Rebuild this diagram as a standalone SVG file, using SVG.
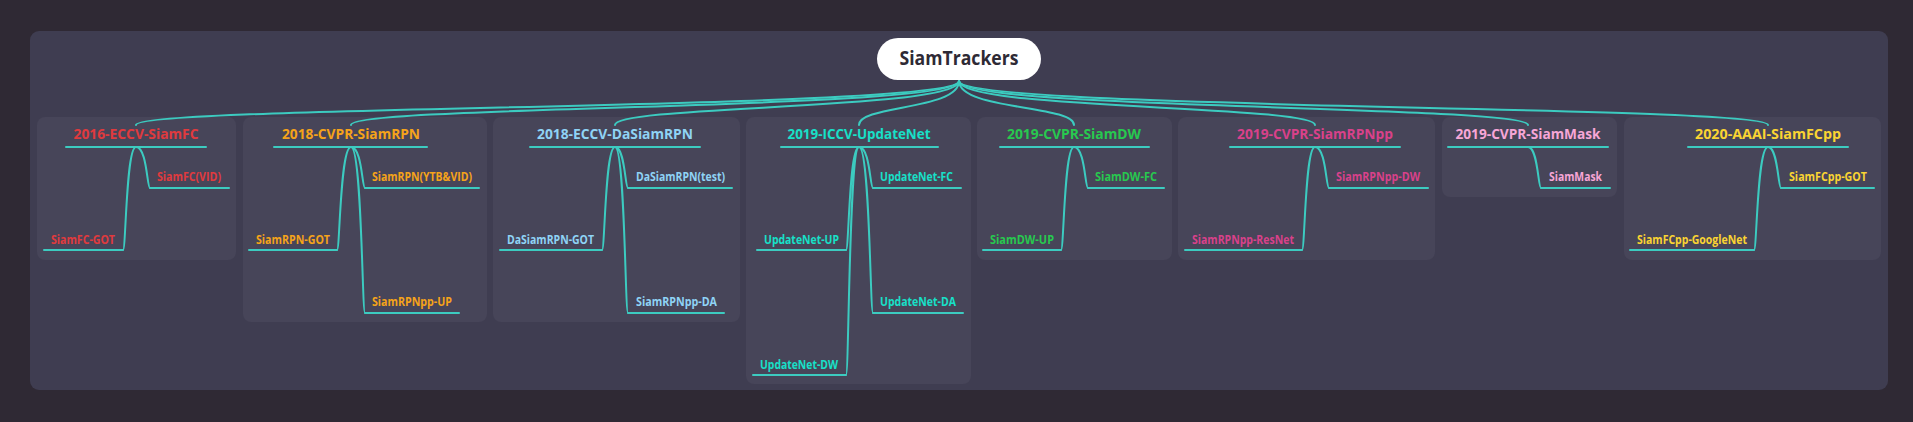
<svg xmlns="http://www.w3.org/2000/svg" width="1913" height="422" viewBox="0 0 1913 422">
<style>
.card{fill:#474559}
.ln{fill:none;stroke:#3ccbc0;stroke-width:2;stroke-linecap:round}
.t{font-family:"Open Sans","Liberation Sans",sans-serif;font-weight:700;font-size:14px;text-anchor:middle}
.c{font-family:"Open Sans","Liberation Sans",sans-serif;font-weight:700;font-size:11.5px}
.r{font-family:"Open Sans","Liberation Sans",sans-serif;font-weight:700;font-size:19px;text-anchor:middle;fill:#2e2a35}
.red{fill:#e03a3e}.org{fill:#f5a31a}.blu{fill:#8fd3f5}.tea{fill:#17e0c8}.grn{fill:#27c94f}.mag{fill:#d9418a}.pnk{fill:#f7a6d6}.yel{fill:#fad432}
</style>
<rect width="1913" height="422" fill="#2f2934"/>
<rect x="30" y="31" width="1858" height="359" rx="9" fill="#3f3d51"/>
<g id="cards">
<rect class="card" x="37" y="117" width="199" height="143" rx="8"/>
<rect class="card" x="243" y="117" width="244" height="205" rx="8"/>
<rect class="card" x="493" y="117" width="247" height="205" rx="8"/>
<rect class="card" x="746" y="117" width="225" height="267" rx="8"/>
<rect class="card" x="977" y="117" width="195" height="143" rx="8"/>
<rect class="card" x="1178" y="117" width="257" height="143" rx="8"/>
<rect class="card" x="1442" y="117" width="175" height="80" rx="8"/>
<rect class="card" x="1624" y="117" width="257" height="143" rx="8"/>
</g>
<g id="connectors">
<path class="ln" d="M959 81C959 110 136 105 136 125"/>
<path class="ln" d="M959 81C959 110 351 105 351 125"/>
<path class="ln" d="M959 81C959 110 615 105 615 125"/>
<path class="ln" d="M959 81C959 110 859 105 859 125"/>
<path class="ln" d="M959 81C959 110 1074 105 1074 125"/>
<path class="ln" d="M959 81C959 110 1315 105 1315 125"/>
<path class="ln" d="M959 81C959 110 1528 105 1528 125"/>
<path class="ln" d="M959 81C959 110 1768 105 1768 125"/>
<path class="ln" d="M136 147C147 147 147 188 150 188M136 147C126 147 126 250 123 250"/>
<path class="ln" d="M351 147C362 147 362 188 365 188M351 147C340 147 340 250 337 250M351 147C362 147 362 313 365 313"/>
<path class="ln" d="M615 147C625 147 625 188 628 188M615 147C605 147 605 250 602 250M615 147C625 147 625 313 628 313"/>
<path class="ln" d="M859 147C870 147 870 188 873 188M859 147C849 147 849 250 846 250M859 147C870 147 870 313 873 313M859 147C849 147 849 375 846 375"/>
<path class="ln" d="M1074 147C1085 147 1085 188 1088 188M1074 147C1064 147 1064 250 1061 250"/>
<path class="ln" d="M1315 147C1326 147 1326 188 1329 188M1315 147C1305 147 1305 250 1302 250"/>
<path class="ln" d="M1528 147C1538 147 1538 188 1541 188"/>
<path class="ln" d="M1768 147C1778 147 1778 188 1781 188M1768 147C1757 147 1757 250 1754 250"/>
</g>
<g id="root">
<rect x="877" y="38" width="164" height="42" rx="21" fill="#ffffff"/>
<text class="r" x="959" y="65" textLength="119" lengthAdjust="spacingAndGlyphs">SiamTrackers</text>
</g>
<g id="n-siamfc">
<text class="t red" x="136" y="139" textLength="125" lengthAdjust="spacingAndGlyphs">2016-ECCV-SiamFC</text>
<path class="ln" d="M66 147H206"/>
<text class="c red" x="157" y="181" textLength="64" lengthAdjust="spacingAndGlyphs">SiamFC(VID)</text>
<path class="ln" d="M150 188H229"/>
<text class="c red" x="51" y="244" textLength="64" lengthAdjust="spacingAndGlyphs">SiamFC-GOT</text>
<path class="ln" d="M44 250H123"/>
</g>
<g id="n-siamrpn">
<text class="t org" x="351" y="139" textLength="138" lengthAdjust="spacingAndGlyphs">2018-CVPR-SiamRPN</text>
<path class="ln" d="M274 147H427"/>
<text class="c org" x="372" y="181" textLength="100" lengthAdjust="spacingAndGlyphs">SiamRPN(YTB&amp;VID)</text>
<path class="ln" d="M365 188H479"/>
<text class="c org" x="256" y="244" textLength="74" lengthAdjust="spacingAndGlyphs">SiamRPN-GOT</text>
<path class="ln" d="M249 250H337"/>
<text class="c org" x="372" y="306" textLength="80" lengthAdjust="spacingAndGlyphs">SiamRPNpp-UP</text>
<path class="ln" d="M365 313H459"/>
</g>
<g id="n-dasiamrpn">
<text class="t blu" x="615" y="139" textLength="156" lengthAdjust="spacingAndGlyphs">2018-ECCV-DaSiamRPN</text>
<path class="ln" d="M530 147H700"/>
<text class="c blu" x="636" y="181" textLength="89" lengthAdjust="spacingAndGlyphs">DaSiamRPN(test)</text>
<path class="ln" d="M628 188H732"/>
<text class="c blu" x="507" y="244" textLength="87" lengthAdjust="spacingAndGlyphs">DaSiamRPN-GOT</text>
<path class="ln" d="M500 250H602"/>
<text class="c blu" x="636" y="306" textLength="81" lengthAdjust="spacingAndGlyphs">SiamRPNpp-DA</text>
<path class="ln" d="M628 313H724"/>
</g>
<g id="n-updatenet">
<text class="t tea" x="859" y="139" textLength="143" lengthAdjust="spacingAndGlyphs">2019-ICCV-UpdateNet</text>
<path class="ln" d="M781 147H938"/>
<text class="c tea" x="880" y="181" textLength="73" lengthAdjust="spacingAndGlyphs">UpdateNet-FC</text>
<path class="ln" d="M873 188H961"/>
<text class="c tea" x="764" y="244" textLength="75" lengthAdjust="spacingAndGlyphs">UpdateNet-UP</text>
<path class="ln" d="M757 250H846"/>
<text class="c tea" x="880" y="306" textLength="76" lengthAdjust="spacingAndGlyphs">UpdateNet-DA</text>
<path class="ln" d="M873 313H963"/>
<text class="c tea" x="760" y="369" textLength="78" lengthAdjust="spacingAndGlyphs">UpdateNet-DW</text>
<path class="ln" d="M753 375H846"/>
</g>
<g id="n-siamdw">
<text class="t grn" x="1074" y="139" textLength="134" lengthAdjust="spacingAndGlyphs">2019-CVPR-SiamDW</text>
<path class="ln" d="M1000 147H1149"/>
<text class="c grn" x="1095" y="181" textLength="62" lengthAdjust="spacingAndGlyphs">SiamDW-FC</text>
<path class="ln" d="M1088 188H1164"/>
<text class="c grn" x="990" y="244" textLength="64" lengthAdjust="spacingAndGlyphs">SiamDW-UP</text>
<path class="ln" d="M983 250H1061"/>
</g>
<g id="n-siamrpnpp">
<text class="t mag" x="1315" y="139" textLength="156" lengthAdjust="spacingAndGlyphs">2019-CVPR-SiamRPNpp</text>
<path class="ln" d="M1230 147H1400"/>
<text class="c mag" x="1336" y="181" textLength="84" lengthAdjust="spacingAndGlyphs">SiamRPNpp-DW</text>
<path class="ln" d="M1329 188H1428"/>
<text class="c mag" x="1192" y="244" textLength="102" lengthAdjust="spacingAndGlyphs">SiamRPNpp-ResNet</text>
<path class="ln" d="M1185 250H1302"/>
</g>
<g id="n-siammask">
<text class="t pnk" x="1528" y="139" textLength="145" lengthAdjust="spacingAndGlyphs">2019-CVPR-SiamMask</text>
<path class="ln" d="M1448 147H1608"/>
<text class="c pnk" x="1549" y="181" textLength="53" lengthAdjust="spacingAndGlyphs">SiamMask</text>
<path class="ln" d="M1541 188H1610"/>
</g>
<g id="n-siamfcpp">
<text class="t yel" x="1768" y="139" textLength="146" lengthAdjust="spacingAndGlyphs">2020-AAAI-SiamFCpp</text>
<path class="ln" d="M1688 147H1848"/>
<text class="c yel" x="1789" y="181" textLength="78" lengthAdjust="spacingAndGlyphs">SiamFCpp-GOT</text>
<path class="ln" d="M1781 188H1874"/>
<text class="c yel" x="1637" y="244" textLength="110" lengthAdjust="spacingAndGlyphs">SiamFCpp-GoogleNet</text>
<path class="ln" d="M1630 250H1754"/>
</g>
</svg>
